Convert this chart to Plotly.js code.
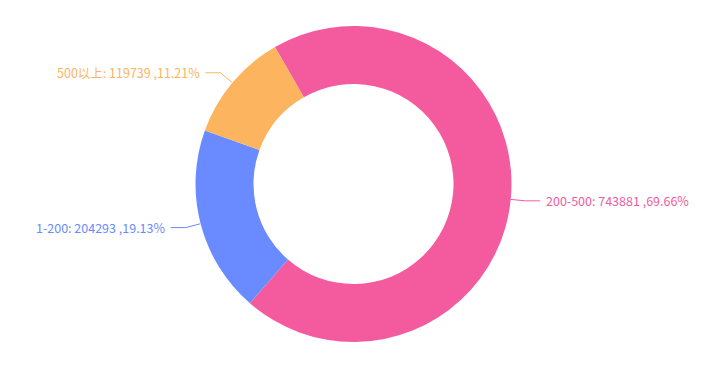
<!DOCTYPE html>
<html>
<head>
<meta charset="utf-8">
<script src="https://cdn.plot.ly/plotly-3.0.1.min.js"></script>
<style>html,body{margin:0;padding:0;background:#fff;}#chart{width:707px;height:369px;}</style>
</head>
<body>
<div id="chart"></div>
<script>
const categories = ["200-500", "1-200", "500以上"];
const values = [743881, 204293, 119739];
const percents = ["69.66%", "19.13%", "11.21%"];
const colors = ["#f45b9e", "#6a8bff", "#fdb45f"];

const W = 707, H = 369;
const cx = 353, cy = 184, R = 158;
const rotation = -29.8;
const len1 = 15, len2 = 15, gap = 4;

const total = values.reduce((a, b) => a + b, 0);
const shapes = [];
const annotations = [];
let acc = 0;
const px = x => x / W;
const py = y => 1 - y / H;
values.forEach((v, i) => {
  const mid = (rotation + (acc + v / 2) / total * 360) * Math.PI / 180;
  acc += v;
  const sx = Math.sin(mid), sy = -Math.cos(mid);
  const x0 = cx + R * sx, y0 = cy + R * sy;
  const x1 = cx + (R + len1) * sx, y1 = cy + (R + len1) * sy;
  const right = sx >= 0;
  const x2 = x1 + (right ? len2 : -len2), y2 = y1;
  shapes.push({
    type: "path", xref: "paper", yref: "paper",
    path: `M ${px(x0)},${py(y0)} L ${px(x1)},${py(y1)} L ${px(x2)},${py(y2)}`,
    line: {color: colors[i], width: 1}
  });
  annotations.push({
    xref: "paper", yref: "paper",
    x: px(x2 + (right ? gap : -gap)), y: py(y2 - 0.5),
    xanchor: right ? "left" : "right", yanchor: "middle",
    showarrow: false,
    text: `${categories[i]}: ${values[i]} ,${percents[i]}`,
    font: {family: "Noto Sans CJK SC, Noto Sans, sans-serif", size: 12.5, color: colors[i]}
  });
});

const trace = {
  type: "pie",
  labels: categories,
  values: values,
  marker: {colors: colors, line: {width: 0}},
  hole: 100 / 158,
  sort: false,
  direction: "clockwise",
  rotation: rotation,
  textinfo: "none",
  hoverinfo: "none",
  domain: {x: [0, 1], y: [(H - (cy + R)) / H, (H - (cy - R)) / H]}
};

Plotly.newPlot("chart", [trace], {
  width: W, height: H,
  margin: {l: 0, r: 0, t: 0, b: 0},
  paper_bgcolor: "#fff",
  showlegend: false,
  shapes: shapes,
  annotations: annotations
}, {displayModeBar: false, staticPlot: true});
</script>
</body>
</html>
